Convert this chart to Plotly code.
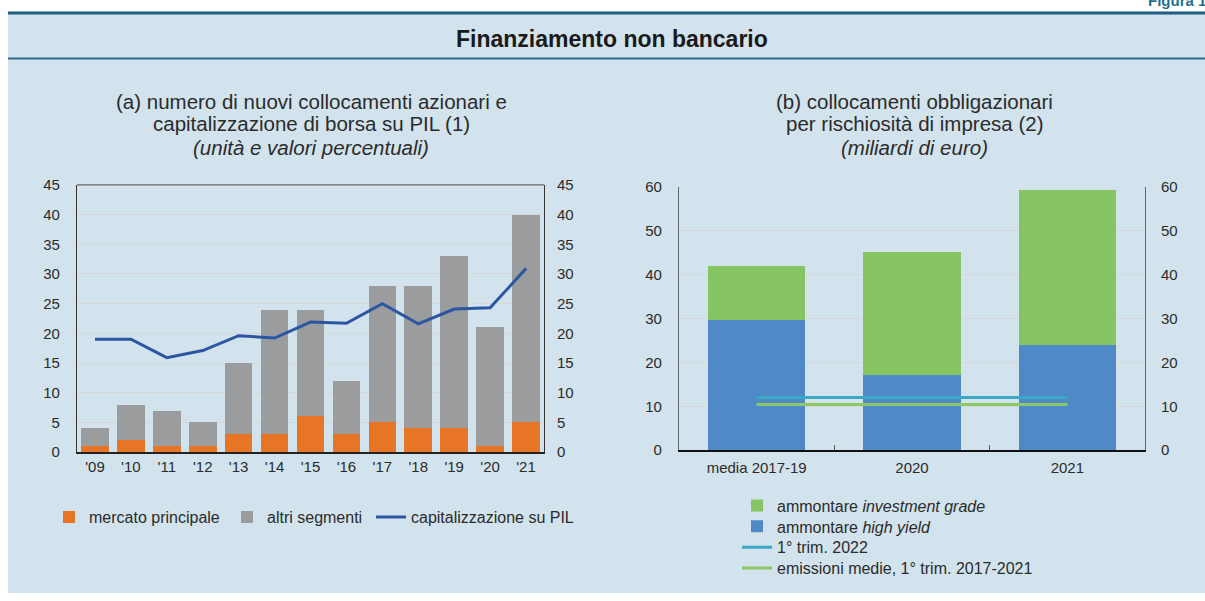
import plotly.graph_objects as go

# ---------------- data ----------------
years = ["'09", "'10", "'11", "'12", "'13", "'14", "'15", "'16", "'17", "'18", "'19", "'20", "'21"]
mercato_principale = [1, 2, 1, 1, 3, 3, 6, 3, 5, 4, 4, 1, 5]
altri_segmenti = [3, 6, 6, 4, 12, 21, 18, 9, 23, 24, 29, 20, 35]
capitalizzazione_pil = [19.0, 19.0, 15.9, 17.1, 19.6, 19.2, 21.9, 21.7, 25.0, 21.6, 24.1, 24.3, 30.9]

periods = ["media 2017-19", "2020", "2021"]
high_yield = [29.7, 17.1, 24.0]
investment_grade = [12.2, 28.1, 35.2]
trim1_2022 = [12.0, 12.0, 12.0]
emissioni_medie = [10.4, 10.4, 10.4]

W, H = 1205, 601
FONT = "Liberation Sans, Arial, Helvetica, sans-serif"
TXT = "#2b2b2b"
BG = "#d2e3ed"

def px(x):
    return x / W

def py(y):
    return 1 - y / H

fig = go.Figure()

# ---- panel (a) ----
fig.add_trace(go.Bar(x=years, y=mercato_principale, name="mercato principale",
                     marker=dict(color="#e87425", line=dict(width=0)),
                     xaxis="x", yaxis="y", legend="legend"))
fig.add_trace(go.Bar(x=years, y=altri_segmenti, name="altri segmenti",
                     marker=dict(color="#9a9c9d", line=dict(width=0)),
                     xaxis="x", yaxis="y", legend="legend3"))
fig.add_trace(go.Scatter(x=years, y=capitalizzazione_pil, name="capitalizzazione su PIL",
                         mode="lines", line=dict(color="#2b56a2", width=3),
                         xaxis="x", yaxis="y2", legend="legend4"))

# ---- panel (b) ----
fig.add_trace(go.Bar(x=periods, y=high_yield, name="ammontare <i>high yield</i>",
                     marker=dict(color="#4f89c8", line=dict(width=0)), width=0.625,
                     xaxis="x3", yaxis="y3", legend="legend6"))
fig.add_trace(go.Bar(x=periods, y=investment_grade, name="ammontare <i>investment grade</i>",
                     marker=dict(color="#86c561", line=dict(width=0)), width=0.625,
                     xaxis="x3", yaxis="y3", legend="legend5"))
fig.add_trace(go.Scatter(x=periods, y=trim1_2022, name="1° trim. 2022", mode="lines",
                         line=dict(color="#3aa9c4", width=3),
                         xaxis="x3", yaxis="y4", legend="legend7"))
fig.add_trace(go.Scatter(x=periods, y=emissioni_medie, name="emissioni medie, 1° trim. 2017-2021",
                         mode="lines", line=dict(color="#8cc866", width=3),
                         xaxis="x3", yaxis="y4", legend="legend8"))

tickfont = dict(family=FONT, size=15, color=TXT)
grid = "#d6d6d6"
legfont = dict(family=FONT, size=16, color=TXT)


def leg(text_x, y_center):
    return dict(orientation="v", x=px(text_x - 40), y=py(y_center), xanchor="left",
                yanchor="middle", bgcolor="rgba(0,0,0,0)", font=legfont,
                borderwidth=0, tracegroupgap=0)


sub_font = dict(family=FONT, size=20.5, color=TXT)


def sub(text, x, y):
    return dict(text=text, x=px(x), y=py(y), xref="paper", yref="paper", showarrow=False,
                xanchor="center", yanchor="middle", font=sub_font)


fig.update_layout(
    width=W, height=H,
    margin=dict(l=0, r=0, t=0, b=0),
    paper_bgcolor="white",
    plot_bgcolor="white",
    barmode="stack",
    bargap=0.23,
    showlegend=True,
    font=dict(family=FONT, size=15, color=TXT),
    xaxis=dict(domain=[px(77), px(544)], anchor="y", type="category",
               range=[-0.5, 12.5], showline=True, linecolor="#222", linewidth=1.5,
               mirror=False, ticks="", showgrid=False, tickfont=tickfont,
               ticklabelstandoff=0),
    yaxis=dict(domain=[py(456), py(181)], anchor="x", range=[0, 45], dtick=5,
               showline=True, linecolor="#333", linewidth=1.3, mirror=True,
               showgrid=True, gridcolor=grid, gridwidth=1, ticks="", tickfont=tickfont,
               ticklabelstandoff=13, zeroline=False),
    yaxis2=dict(overlaying="y", side="right", anchor="x", range=[0, 45], dtick=5,
                showgrid=False, ticks="", tickfont=tickfont, ticklabelstandoff=12,
                zeroline=False, showline=False),
    xaxis3=dict(domain=[px(679), px(1145)], anchor="y3", type="category",
                range=[-0.5, 2.5], showline=True, linecolor="#111", linewidth=2,
                mirror=False, ticks="inside", tickson="boundaries", ticklen=5,
                tickcolor="#555", showgrid=False, tickfont=tickfont,
                ticklabelstandoff=3),
    yaxis3=dict(domain=[py(454), py(183)], anchor="x3", range=[0, 60], dtick=10,
                showline=True, linecolor="#666", linewidth=1.2, mirror=True,
                showgrid=True, gridcolor=grid, gridwidth=1, ticks="",
                tickfont=tickfont, ticklabelstandoff=13, zeroline=False),
    yaxis4=dict(overlaying="y3", side="right", anchor="x3", range=[0, 60], dtick=10,
                showgrid=False, ticks="", tickfont=tickfont, ticklabelstandoff=15,
                zeroline=False, showline=False),
    legend=leg(89, 523),
    legend3=leg(267, 523),
    legend4=leg(411, 523),
    legend5=leg(777, 511),
    legend6=leg(777, 532.5),
    legend7=leg(777, 554),
    legend8=leg(777, 575.5),
    shapes=[
        dict(type="rect", xref="paper", yref="paper", x0=px(8), x1=1, y0=0, y1=py(4),
             fillcolor=BG, line=dict(width=0), layer="below"),
        dict(type="line", xref="paper", yref="paper", x0=px(8), x1=1, y0=py(4), y1=py(4),
             line=dict(color="#1d5f80", width=3)),
        dict(type="line", xref="paper", yref="paper", x0=px(8), x1=1, y0=py(51), y1=py(51),
             line=dict(color="#2a6a8a", width=2)),
        dict(type="line", xref="x domain", yref="y domain", x0=0, x1=1, y0=1, y1=1,
             line=dict(color="#6a6a6a", width=1.2)),
    ],
    annotations=[
        dict(text="<b>Finanziamento non bancario</b>", x=px(612), y=py(30.5), xref="paper",
             yref="paper", showarrow=False, xanchor="center", yanchor="middle",
             font=dict(family=FONT, size=23, color="#1a1a1a")),
        dict(text="<b>Figura 1.1</b>", x=px(1146), y=py(2), xref="paper", yref="paper",
             showarrow=False, xanchor="left", yanchor="bottom",
             font=dict(family=FONT, size=15, color="#1d6f95")),
        sub("(a) numero di nuovi collocamenti azionari e", 311, 95),
        sub("capitalizzazione di borsa su PIL (1)", 311, 118),
        sub("<i>(unità e valori percentuali)</i>", 311, 143),
        sub("(b) collocamenti obbligazionari", 914, 95),
        sub("per rischiosità di impresa (2)", 914, 118),
        sub("<i>(miliardi di euro)</i>", 914, 143),
    ],
)

fig.write_html("out.html", config={"displayModeBar": False},
               post_script="document.body.style.margin='0';document.body.style.padding='0';document.documentElement.style.overflow='hidden';")
